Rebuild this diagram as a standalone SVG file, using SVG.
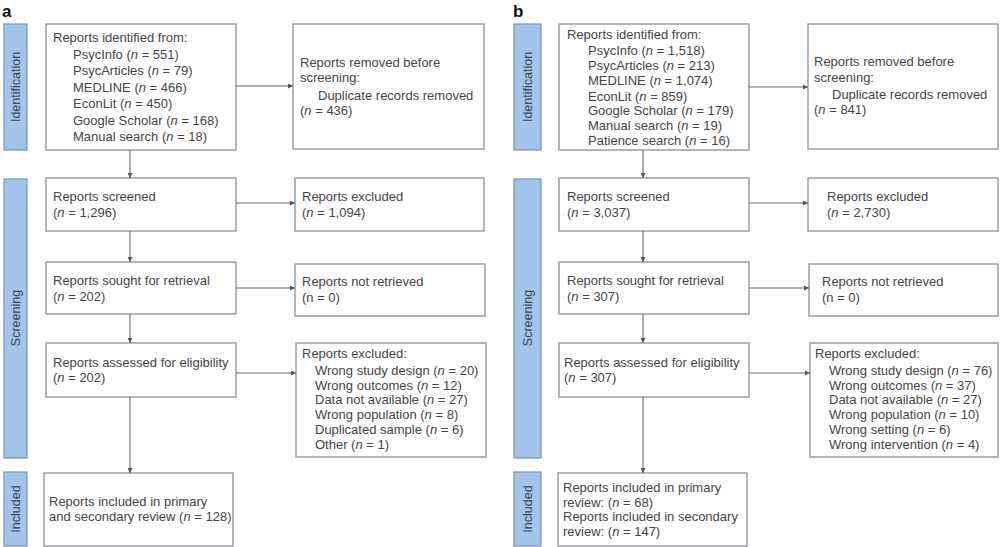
<svg xmlns="http://www.w3.org/2000/svg" width="1000" height="547" viewBox="0 0 1000 547">
<defs>
<marker id="ah" viewBox="0 0 10 10" refX="10" refY="5" markerWidth="5" markerHeight="5" orient="auto" markerUnits="userSpaceOnUse">
<path d="M0,0 L10,5 L0,10 z" fill="#555"/>
</marker>
<style>
.bg{fill:#fff}
.box{fill:#fff;stroke:#8c9096;stroke-width:1.3}
.bar{fill:#a3c4ea;stroke:#6f93bd;stroke-width:1.2}
.t{font-family:"Liberation Sans",Arial,sans-serif;font-size:13px;fill:#444}
.bl{font-family:"Liberation Sans",Arial,sans-serif;font-size:12.5px;fill:#3a4756;text-anchor:middle}
.pl{font-family:"Liberation Sans",Arial,sans-serif;font-size:17px;font-weight:bold;fill:#111}
.i{font-style:italic}
.c{stroke:#666;stroke-width:1.1;fill:none;marker-end:url(#ah)}
</style>
</defs>
<rect class="bg" x="0" y="0" width="1000" height="547"/>

<!-- Panel a -->
<text class="pl" x="2" y="17">a</text>
<g id="a-bar-identification"><rect class="bar" x="4" y="24" width="23" height="126"/><text class="bl" transform="translate(20,87) rotate(-90)">Identification</text></g>
<g id="a-bar-screening"><rect class="bar" x="4" y="179" width="23" height="279"/><text class="bl" transform="translate(20,318) rotate(-90)">Screening</text></g>
<g id="a-bar-included"><rect class="bar" x="4" y="472" width="23" height="74"/><text class="bl" transform="translate(20,509) rotate(-90)">Included</text></g>

<g id="a-identified"><rect class="box" x="46" y="24" width="190" height="126"/>
<text class="t" x="53" y="42">Reports identified from:</text>
<text class="t" x="73" y="58.5">PsycInfo (<tspan class="i">n</tspan> = 551)</text>
<text class="t" x="73" y="75">PsycArticles (<tspan class="i">n</tspan> = 79)</text>
<text class="t" x="73" y="91.5">MEDLINE (<tspan class="i">n</tspan> = 466)</text>
<text class="t" x="73" y="108">EconLit (<tspan class="i">n</tspan> = 450)</text>
<text class="t" x="73" y="124.5">Google Scholar (<tspan class="i">n</tspan> = 168)</text>
<text class="t" x="73" y="141">Manual search (<tspan class="i">n</tspan> = 18)</text>
</g>
<g id="a-removed"><rect class="box" x="293" y="24" width="191" height="125"/>
<text class="t" x="300" y="67">Reports removed before</text>
<text class="t" x="300" y="82">screening:</text>
<text class="t" x="318" y="99.5">Duplicate records removed</text>
<text class="t" x="300" y="115">(<tspan class="i">n</tspan> = 436)</text>
</g>
<g id="a-screened"><rect class="box" x="46" y="178" width="190" height="53"/>
<text class="t" x="53" y="201">Reports screened</text>
<text class="t" x="53" y="217">(<tspan class="i">n</tspan> = 1,296)</text>
</g>
<g id="a-excluded1"><rect class="box" x="295" y="178" width="189" height="53"/>
<text class="t" x="302" y="201">Reports excluded</text>
<text class="t" x="302" y="217">(<tspan class="i">n</tspan> = 1,094)</text>
</g>
<g id="a-sought"><rect class="box" x="46" y="262" width="190" height="52"/>
<text class="t" x="53" y="285">Reports sought for retrieval</text>
<text class="t" x="53" y="301">(<tspan class="i">n</tspan> = 202)</text>
</g>
<g id="a-notretrieved"><rect class="box" x="295" y="264" width="190" height="52"/>
<text class="t" x="302" y="286">Reports not retrieved</text>
<text class="t" x="302" y="302">(n = 0)</text>
</g>
<g id="a-assessed"><rect class="box" x="46" y="343" width="190" height="54"/>
<text class="t" x="53" y="367">Reports assessed for eligibility</text>
<text class="t" x="53" y="382">(<tspan class="i">n</tspan> = 202)</text>
</g>
<g id="a-excluded2"><rect class="box" x="296" y="343" width="190" height="114"/>
<text class="t" x="302" y="358">Reports excluded:</text>
<text class="t" x="315" y="375">Wrong study design (<tspan class="i">n</tspan> = 20)</text>
<text class="t" x="315" y="389.5">Wrong outcomes (<tspan class="i">n</tspan> = 12)</text>
<text class="t" x="315" y="404">Data not available (<tspan class="i">n</tspan> = 27)</text>
<text class="t" x="315" y="419">Wrong population (<tspan class="i">n</tspan> = 8)</text>
<text class="t" x="315" y="434">Duplicated sample (<tspan class="i">n</tspan> = 6)</text>
<text class="t" x="315" y="449">Other (<tspan class="i">n</tspan> = 1)</text>
</g>
<g id="a-included"><rect class="box" x="44" y="473" width="189" height="73"/>
<text class="t" x="49" y="506">Reports included in primary</text>
<text class="t" x="49" y="521">and secondary review (<tspan class="i">n</tspan> = 128)</text>
</g>

<!-- Panel b -->
<text class="pl" x="513" y="17">b</text>
<g id="b-bar-identification"><rect class="bar" x="514" y="24" width="27" height="126"/><text class="bl" transform="translate(532,87) rotate(-90)">Identification</text></g>
<g id="b-bar-screening"><rect class="bar" x="514" y="179" width="27" height="279"/><text class="bl" transform="translate(532,318) rotate(-90)">Screening</text></g>
<g id="b-bar-included"><rect class="bar" x="514" y="472" width="27" height="74"/><text class="bl" transform="translate(532,509) rotate(-90)">Included</text></g>

<g id="b-identified"><rect class="box" x="559" y="24" width="190" height="126"/>
<text class="t" x="567" y="39">Reports identified from:</text>
<text class="t" x="588" y="55">PsycInfo (<tspan class="i">n</tspan> = 1,518)</text>
<text class="t" x="588" y="70">PsycArticles (<tspan class="i">n</tspan> = 213)</text>
<text class="t" x="588" y="85">MEDLINE (<tspan class="i">n</tspan> = 1,074)</text>
<text class="t" x="588" y="100.5">EconLit (<tspan class="i">n</tspan> = 859)</text>
<text class="t" x="588" y="115">Google Scholar (<tspan class="i">n</tspan> = 179)</text>
<text class="t" x="588" y="130">Manual search (<tspan class="i">n</tspan> = 19)</text>
<text class="t" x="588" y="144.5">Patience search (<tspan class="i">n</tspan> = 16)</text>
</g>
<g id="b-removed"><rect class="box" x="808" y="24" width="190" height="125"/>
<text class="t" x="814" y="66">Reports removed before</text>
<text class="t" x="814" y="82">screening:</text>
<text class="t" x="832" y="99">Duplicate records removed</text>
<text class="t" x="814" y="114">(<tspan class="i">n</tspan> = 841)</text>
</g>
<g id="b-screened"><rect class="box" x="559" y="178" width="190" height="53"/>
<text class="t" x="567" y="201">Reports screened</text>
<text class="t" x="567" y="217">(<tspan class="i">n</tspan> = 3,037)</text>
</g>
<g id="b-excluded1"><rect class="box" x="808" y="178" width="190" height="53"/>
<text class="t" x="827" y="201">Reports excluded</text>
<text class="t" x="827" y="217">(<tspan class="i">n</tspan> = 2,730)</text>
</g>
<g id="b-sought"><rect class="box" x="559" y="262" width="190" height="52"/>
<text class="t" x="567" y="285">Reports sought for retrieval</text>
<text class="t" x="567" y="301">(<tspan class="i">n</tspan> = 307)</text>
</g>
<g id="b-notretrieved"><rect class="box" x="809" y="264" width="189" height="52"/>
<text class="t" x="822" y="286">Reports not retrieved</text>
<text class="t" x="822" y="302">(n = 0)</text>
</g>
<g id="b-assessed"><rect class="box" x="559" y="343" width="190" height="54"/>
<text class="t" x="564" y="367">Reports assessed for eligibility</text>
<text class="t" x="564" y="382">(<tspan class="i">n</tspan> = 307)</text>
</g>
<g id="b-excluded2"><rect class="box" x="810" y="343" width="188" height="114"/>
<text class="t" x="815" y="358">Reports excluded:</text>
<text class="t" x="829" y="375">Wrong study design (<tspan class="i">n</tspan> = 76)</text>
<text class="t" x="829" y="389.5">Wrong outcomes (<tspan class="i">n</tspan> = 37)</text>
<text class="t" x="829" y="404">Data not available (<tspan class="i">n</tspan> = 27)</text>
<text class="t" x="829" y="419">Wrong population (<tspan class="i">n</tspan> = 10)</text>
<text class="t" x="829" y="434">Wrong setting (<tspan class="i">n</tspan> = 6)</text>
<text class="t" x="829" y="449">Wrong intervention (<tspan class="i">n</tspan> = 4)</text>
</g>
<g id="b-included"><rect class="box" x="558" y="473" width="189" height="73"/>
<text class="t" x="563" y="492">Reports included in primary</text>
<text class="t" x="563" y="506.5">review: (<tspan class="i">n</tspan> = 68)</text>
<text class="t" x="563" y="521">Reports included in secondary</text>
<text class="t" x="563" y="535.5">review: (<tspan class="i">n</tspan> = 147)</text>
</g>

<g id="connectors">
<line class="c" x1="236" y1="86" x2="293" y2="86"/>
<line class="c" x1="130" y1="150" x2="130" y2="178"/>
<line class="c" x1="236" y1="203" x2="295" y2="203"/>
<line class="c" x1="130" y1="231" x2="130" y2="262"/>
<line class="c" x1="236" y1="288" x2="295" y2="288"/>
<line class="c" x1="130" y1="314" x2="130" y2="343"/>
<line class="c" x1="236" y1="373" x2="296" y2="373"/>
<line class="c" x1="130" y1="397" x2="130" y2="473"/>
<line class="c" x1="749" y1="87" x2="808" y2="87"/>
<line class="c" x1="643" y1="150" x2="643" y2="178"/>
<line class="c" x1="749" y1="203" x2="808" y2="203"/>
<line class="c" x1="643" y1="231" x2="643" y2="262"/>
<line class="c" x1="749" y1="288" x2="809" y2="288"/>
<line class="c" x1="643" y1="314" x2="643" y2="343"/>
<line class="c" x1="749" y1="373" x2="810" y2="373"/>
<line class="c" x1="643" y1="397" x2="643" y2="473"/>
</g>
</svg>
